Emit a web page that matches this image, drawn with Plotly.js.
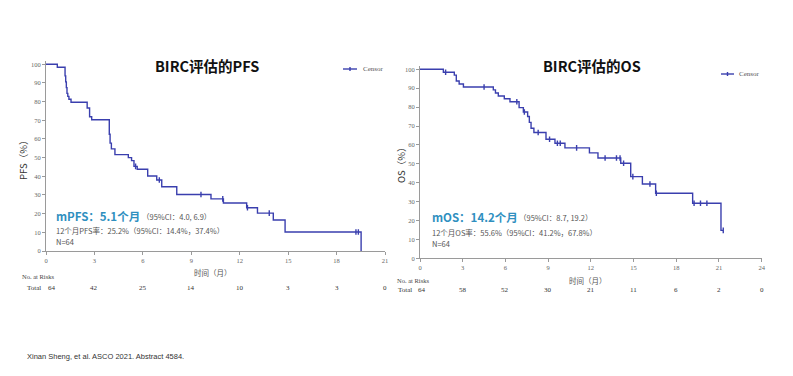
<!DOCTYPE html>
<html>
<head>
<meta charset="utf-8">
<script src="https://cdn.plot.ly/plotly-3.0.1.min.js"></script>
<style>html,body{margin:0;padding:0;background:#fff;}#chart{width:793px;height:376px;}</style>
</head>
<body>
<div id="chart"></div>
<script>
// ---- Data ----
const pfsTime = [0, 0.7, 1.18, 1.22, 1.26, 1.3, 1.35, 1.42, 1.55, 2.55, 2.7, 2.83, 3.92, 3.97, 4.05, 4.27, 5.1, 5.3, 5.45, 5.65, 6.3, 6.86, 7.17, 8.1, 10.22, 10.99, 12.43, 13.1, 14.08, 14.81, 19.52];
const pfsSurv = [100, 98.4, 93.8, 90.6, 87.5, 84.4, 82.8, 81.3, 79.7, 76.6, 71.9, 70.3, 62.5, 57.8, 54.7, 51.6, 50.0, 48.4, 45.3, 43.8, 40.2, 38.0, 34.4, 30.3, 27.9, 25.7, 23.2, 20.3, 16.6, 10.2, 0];
const pfsCensorTime = [5.55, 7.02, 9.6, 10.95, 12.48, 13.83, 19.2, 19.35];
const pfsCensorSurv = [45.3, 38.0, 30.3, 27.9, 23.2, 20.3, 10.2, 10.2];

const osTime = [0, 1.64, 2.41, 2.55, 2.75, 3.05, 5.15, 5.3, 5.5, 5.92, 6.32, 6.96, 7.26, 7.56, 7.68, 7.8, 8.0, 8.85, 9.48, 10.18, 11.9, 12.5, 14.1, 14.8, 15.62, 16.55, 19.15, 21.14, 21.3];
const osSurv = [100, 98.4, 96.9, 93.8, 92.2, 90.6, 89.1, 87.5, 85.9, 84.4, 82.8, 79.7, 77.4, 75.0, 71.9, 68.8, 66.6, 63.0, 60.9, 58.4, 55.8, 53.1, 50.3, 43.2, 39.3, 34.4, 29.1, 14.8, 14.8];
const osCensorTime = [1.8, 4.5, 6.8, 7.33, 8.3, 9.1, 9.65, 9.85, 11.0, 13.0, 13.8, 14.05, 14.3, 14.95, 16.15, 16.6, 19.25, 19.7, 20.15, 21.3];
const osCensorSurv = [98.4, 90.6, 82.8, 77.4, 66.6, 63.0, 60.9, 60.9, 58.4, 53.1, 53.1, 53.1, 50.3, 43.2, 39.3, 34.4, 29.1, 29.1, 29.1, 14.8];

const pfsTicks = [0, 3, 6, 9, 12, 15, 18, 21];
const osTicks = [0, 3, 6, 9, 12, 15, 18, 21, 24];
const yTicks = [0, 10, 20, 30, 40, 50, 60, 70, 80, 90, 100];
const pfsRisk = [64, 42, 25, 14, 10, 3, 3, 0];
const osRisk = [64, 58, 52, 30, 21, 11, 6, 2, 0];

const titlePFS = 'BIRC评估的PFS';
const titleOS = 'BIRC评估的OS';
const pfsMedian = 'mPFS：5.1个月';
const pfsMedianCI = '（95%CI：4.0, 6.9）';
const pfsRate = '12个月PFS率：25.2%（95%CI：14.4%，37.4%）';
const osMedian = 'mOS：14.2个月';
const osMedianCI = '（95%CI：8.7, 19.2）';
const osRate = '12个月OS率：55.6%（95%CI：41.2%，67.8%）';
const nText = 'N=64';
const footer = 'Xinan Sheng, et al. ASCO 2021. Abstract 4584.';

// ---- Styling ----
const W = 793, H = 376;
const PX = x => x / W;
const PY = y => 1 - y / H;
const lineColor = '#3a3fae';
const axisColor = '#9a9a9a';
const teal = '#2f8fbf';
const serif = 'Liberation Serif, Times New Roman, serif';
const cjk = 'Noto Sans CJK SC, Noto Sans, sans-serif';

const traces = [
  {x: pfsTime, y: pfsSurv, xaxis: 'x', yaxis: 'y', mode: 'lines', line: {shape: 'hv', color: lineColor, width: 1.4}, showlegend: false, hoverinfo: 'skip'},
  {x: pfsCensorTime, y: pfsCensorSurv, xaxis: 'x', yaxis: 'y', mode: 'markers', marker: {symbol: 'line-ns-open', size: 4, color: lineColor, line: {width: 1.4, color: lineColor}}, showlegend: false, hoverinfo: 'skip'},
  {x: osTime, y: osSurv, xaxis: 'x2', yaxis: 'y2', mode: 'lines', line: {shape: 'hv', color: lineColor, width: 1.4}, showlegend: false, hoverinfo: 'skip'},
  {x: osCensorTime, y: osCensorSurv, xaxis: 'x2', yaxis: 'y2', mode: 'markers', marker: {symbol: 'line-ns-open', size: 4, color: lineColor, line: {width: 1.4, color: lineColor}}, showlegend: false, hoverinfo: 'skip'}
];

const tickFont = {family: serif, size: 6.5, color: '#666'};
function xAxis(domain, range, ticks, anchor) {
  return {domain, range, anchor, tickvals: ticks, ticktext: ticks.map(String), showline: true, linecolor: axisColor, linewidth: 1,
    ticks: 'outside', ticklen: 3, tickcolor: axisColor, tickwidth: 1, tickfont: tickFont, showgrid: false, zeroline: false, fixedrange: true};
}
function yAxis(domain, anchor) {
  return {domain, range: [0, 102], anchor, tickvals: yTicks, ticktext: yTicks.map(String), showline: true, linecolor: axisColor, linewidth: 1,
    ticks: 'outside', ticklen: 3, tickcolor: axisColor, tickwidth: 1, tickfont: tickFont, showgrid: false, zeroline: false, fixedrange: true};
}

const ann = [];
function txt(text, x, y, opts) {
  ann.push(Object.assign({text, x: PX(x), y: PY(y), xref: 'paper', yref: 'paper', showarrow: false, xanchor: 'left', yanchor: 'middle'}, opts));
}
// titles
txt(titlePFS, 207, 66, {xanchor: 'center', font: {family: cjk, size: 14.5, color: '#111', weight: 'bold'}});
txt(titleOS, 592, 65, {xanchor: 'center', font: {family: cjk, size: 14.5, color: '#111', weight: 'bold'}});
// y-axis titles
txt('PFS（%）', 23, 158, {xanchor: 'center', textangle: -90, font: {family: cjk, size: 9.5, color: '#333'}});
txt('OS（%）', 401, 163, {xanchor: 'center', textangle: -90, font: {family: cjk, size: 9.5, color: '#333'}});
// x-axis titles
txt('时间（月）', 213, 272, {xanchor: 'center', font: {family: cjk, size: 7.5, color: '#555'}});
txt('时间（月）', 588, 280, {xanchor: 'center', font: {family: cjk, size: 7.5, color: '#555'}});
// medians
txt(pfsMedian, 54, 216, {font: {family: cjk, size: 11.5, color: teal, weight: 'bold'}});
txt(pfsMedianCI, 140, 216, {font: {family: cjk, size: 7.5, color: '#555'}});
txt(pfsRate, 54, 230, {font: {family: cjk, size: 7.5, color: '#555'}});
txt(nText, 54, 242, {font: {family: cjk, size: 7.5, color: '#555'}});
txt(osMedian, 430, 217, {font: {family: cjk, size: 11.5, color: teal, weight: 'bold'}});
txt(osMedianCI, 517, 217, {font: {family: cjk, size: 7.5, color: '#555'}});
txt(osRate, 430, 232, {font: {family: cjk, size: 7.5, color: '#555'}});
txt(nText, 430, 243, {font: {family: cjk, size: 7.5, color: '#555'}});
// legends text
txt('Censor', 361, 69, {font: {family: serif, size: 7, color: '#555'}});
txt('Censor', 737, 74, {font: {family: serif, size: 7, color: '#555'}});
// risk tables
txt('No. at Risks', 20, 276, {font: {family: serif, size: 6.5, color: '#444'}});
txt('Total', 25, 288, {font: {family: serif, size: 7, color: '#333'}});
txt('No. at Risks', 395, 280, {font: {family: serif, size: 6.5, color: '#444'}});
txt('Total', 396, 289.5, {font: {family: serif, size: 7, color: '#333'}});
pfsRisk.forEach((n, i) => {
  ann.push({text: String(n), x: pfsTicks[i], xref: 'x', y: PY(288), yref: 'paper', showarrow: false, xanchor: 'center', yanchor: 'middle',
    xshift: i === 0 ? 6 : 0, font: {family: serif, size: 7, color: '#333'}});
});
osRisk.forEach((n, i) => {
  ann.push({text: String(n), x: osTicks[i], xref: 'x2', y: PY(289.5), yref: 'paper', showarrow: false, xanchor: 'center', yanchor: 'middle',
    xshift: i === 0 ? 2 : 0, font: {family: serif, size: 7, color: '#333'}});
});
// footer
txt(footer, 25, 356, {font: {family: 'Liberation Sans, Arial, sans-serif', size: 7.5, color: '#333'}});

const shapes = [
  {type: 'line', xref: 'paper', yref: 'paper', x0: PX(343), x1: PX(357), y0: PY(69), y1: PY(69), line: {color: lineColor, width: 1.4}},
  {type: 'line', xref: 'paper', yref: 'paper', x0: PX(350), x1: PX(350), y0: PY(67), y1: PY(71), line: {color: lineColor, width: 1.4}},
  {type: 'line', xref: 'paper', yref: 'paper', x0: PX(721), x1: PX(734), y0: PY(74), y1: PY(74), line: {color: lineColor, width: 1.4}},
  {type: 'line', xref: 'paper', yref: 'paper', x0: PX(727.5), x1: PX(727.5), y0: PY(72), y1: PY(76), line: {color: lineColor, width: 1.4}}
];

const layout = {
  width: W, height: H, margin: {l: 0, r: 0, t: 0, b: 0}, paper_bgcolor: '#fff', plot_bgcolor: 'rgba(0,0,0,0)', showlegend: false,
  xaxis: xAxis([46 / W, 385 / W], [0, 21], pfsTicks, 'y'),
  yaxis: yAxis([(H - 251) / H, (H - 60.56) / H], 'x'),
  xaxis2: xAxis([420 / W, 761.7 / W], [0, 24], osTicks, 'y2'),
  yaxis2: yAxis([(H - 258.3) / H, (H - 65.52) / H], 'x2'),
  annotations: ann, shapes: shapes
};

Plotly.newPlot('chart', traces, layout, {displayModeBar: false, staticPlot: true});
</script>
</body>
</html>
